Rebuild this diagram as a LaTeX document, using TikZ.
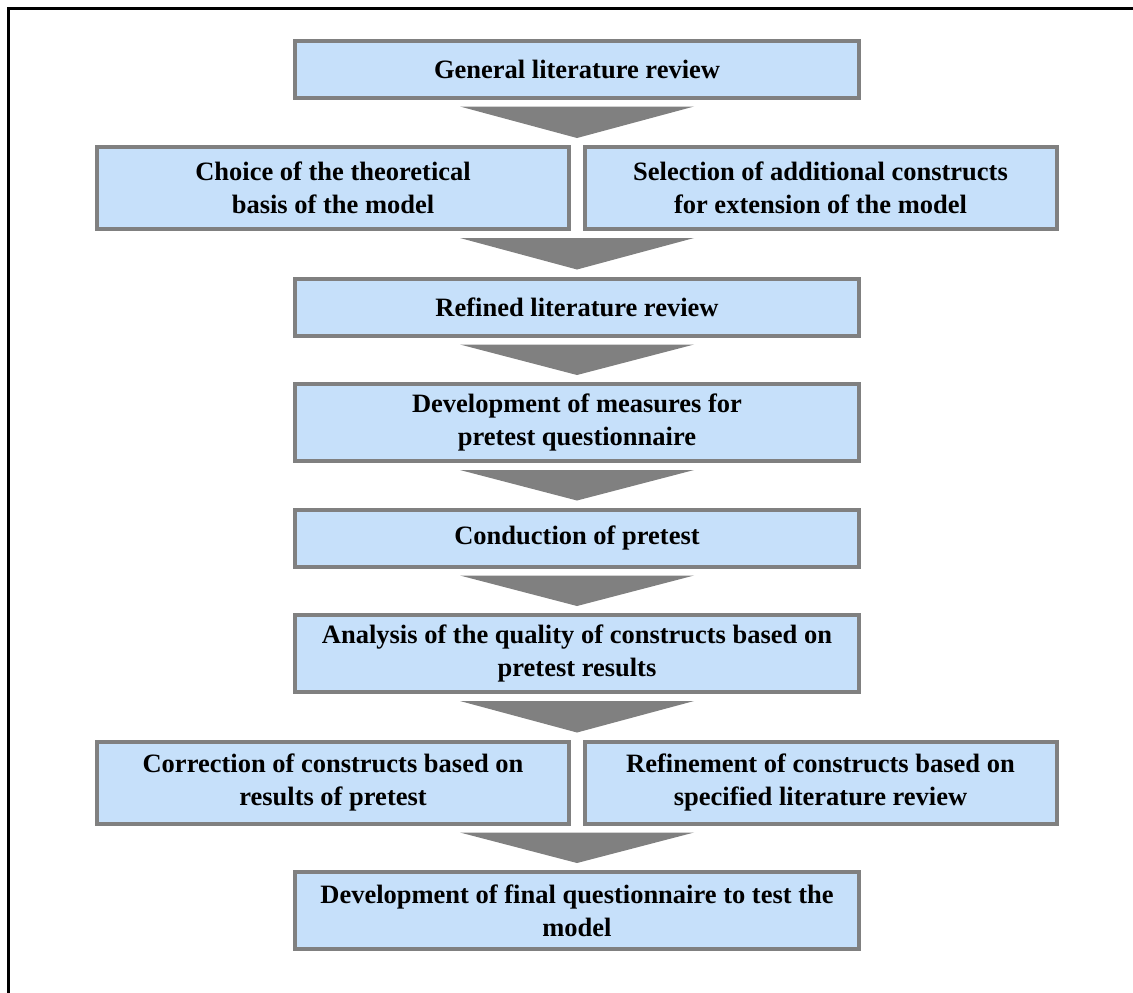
\documentclass[tikz,border=0pt]{standalone}
\usepackage{fontspec}
\setmainfont{Liberation Serif}
\usetikzlibrary{calc}

\definecolor{boxgray}{RGB}{128,128,128}
\definecolor{boxblue}{RGB}{198,224,250}

\tikzset{
  stage/.style={draw=boxgray,line width=2pt,fill=boxblue,inner sep=0pt,align=center,
    font=\fontsize{13.25}{16.5}\selectfont\bfseries,
    minimum width=282pt,minimum height=28.5pt},
  tall/.style={minimum height=38.5pt},
  half/.style={minimum width=236pt,minimum height=41pt},
  chevron/.style={fill=boxgray},
}

\begin{document}
\begin{tikzpicture}[x=0.5pt,y=-0.5pt]
\useasboundingbox (0,0) rectangle (1133,992);
\clip (0,0) rectangle (1133,992);
\draw[line width=1.25pt] (8.5,8.5) rectangle (1160,1020);
\coordinate (axis) at (577,0);

% stages, top to bottom
\node[stage] (general) at (577,69) {General literature review};
\node[stage,half] (choice) at (333,188) {Choice of the theoretical\\basis of the model};
\node[stage,half] (select) at (820.5,188) {Selection of additional constructs\\for extension of the model};
\node[stage] (refined) at (577,307) {Refined literature review};
\node[stage,tall] (measures) at (577,422.5) {Development of measures for\\pretest questionnaire};
\node[stage] (pretest) at (577,538) {Conduction of pretest};
\node[stage,tall] (analysis) at (577,653.5) {Analysis of the quality of constructs based on\\pretest results};
\node[stage,half] (correct) at (333,782.5) {Correction of constructs based on\\results of pretest};
\node[stage,half] (refine) at (820.5,782.5) {Refinement of constructs based on\\specified literature review};
\node[stage,tall] (final) at (577,910.5) {Development of final questionnaire to test the\\model};

% chevrons between the stages
\foreach \a/\b in {general/choice,choice/refined,refined/measures,measures/pretest,
    pretest/analysis,analysis/correct,correct/final}
  \fill[chevron] ($(\a.south -| axis)+(-117,7)$) -- ($(\a.south -| axis)+(117,7)$)
    -- ($(\b.north -| axis)+(0,-7)$) -- cycle;
\end{tikzpicture}
\end{document}
